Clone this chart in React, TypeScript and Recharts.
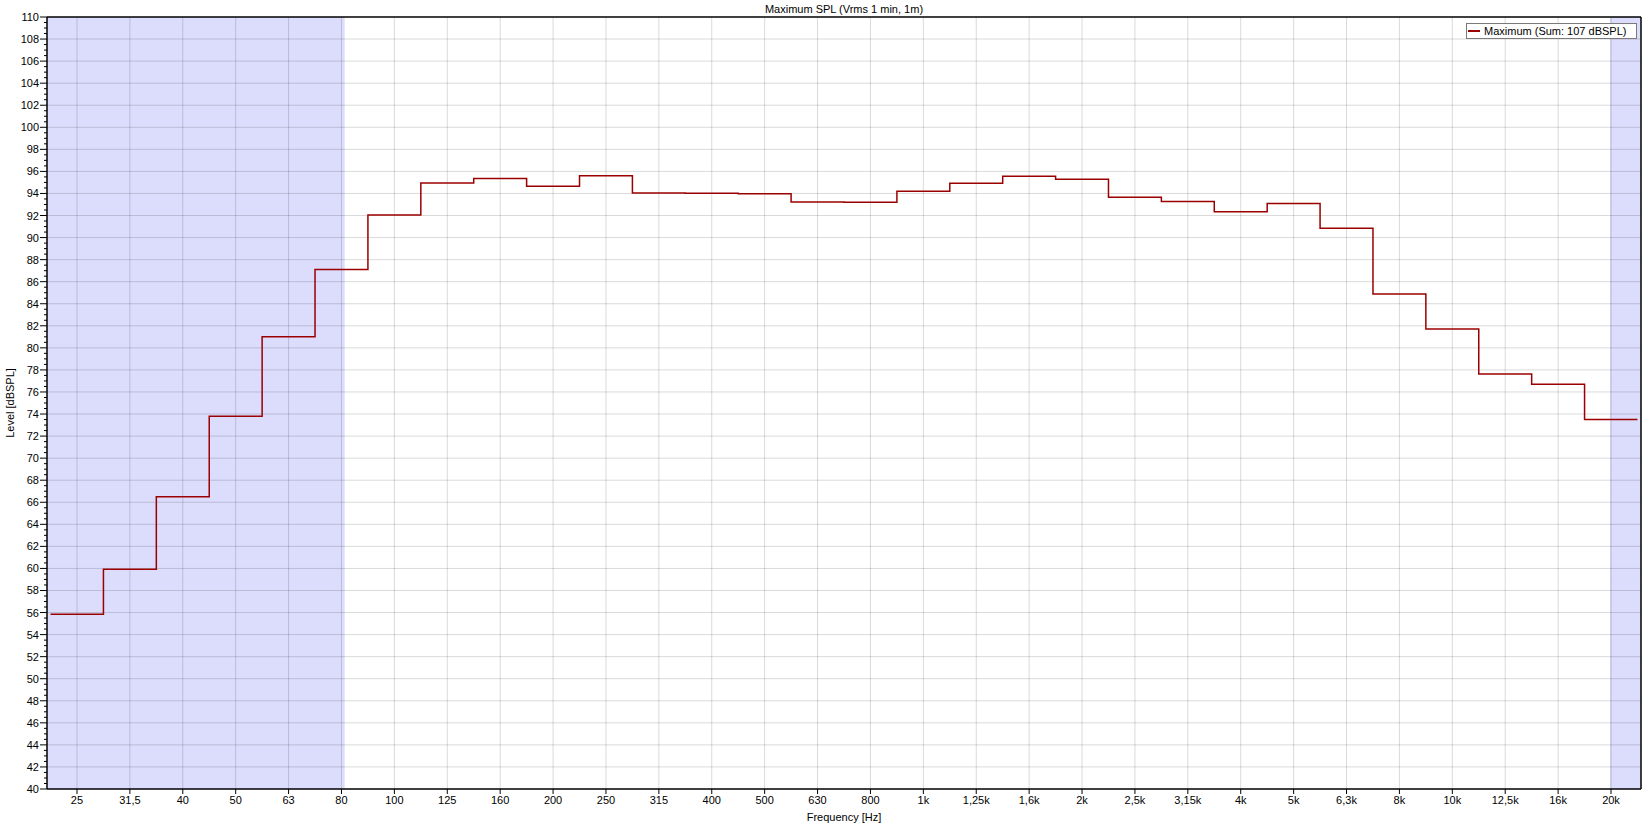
import React from 'react';
import {
  LineChart,
  Line,
  XAxis,
  YAxis,
  ReferenceArea,
  ReferenceLine,
  Legend,
} from 'recharts';

// third-octave band centres (labels as shown on the axis)
const bands = [
  '25', '31,5', '40', '50', '63', '80', '100', '125', '160', '200',
  '250', '315', '400', '500', '630', '800', '1k', '1,25k', '1,6k', '2k',
  '2,5k', '3,15k', '4k', '5k', '6,3k', '8k', '10k', '12,5k', '16k', '20k',
];

// maximum SPL per band, dBSPL
const levels = [
  55.85, 59.93, 66.5, 73.8, 81.0, 87.1, 92.05, 94.95, 95.35, 94.65,
  95.6, 94.05, 94.02, 93.98, 93.23, 93.2, 94.2, 94.92, 95.56, 95.28,
  93.65, 93.26, 92.35, 93.08, 90.84, 84.89, 81.71, 77.63, 76.7, 73.5,
];

const yMajorTicks: number[] = [];
for (let v = 40; v <= 110; v += 2) yMajorTicks.push(v);
const yMinorTicks: number[] = [];
for (let v = 40; v <= 110; v += 0.5) yMinorTicks.push(v);

const xTicks = bands.map((_, i) => i);
const X_MIN = -0.567;
const X_MAX = 29.567;

// shaded ranges outside 80 Hz .. 20 kHz (in band index units)
const lowShadeEnd = 5.06;
const highShadeStart = 28.98;

// each band drawn from its lower to its upper edge
const stepData = levels
  .map((level, i) => ({ x: i - 0.5, level }))
  .concat([{ x: levels.length - 0.5, level: levels[levels.length - 1] }]);

const YTick = (props: any) => {
  const { x, y, payload } = props;
  const major = payload.value % 2 === 0;
  return (
    <g>
      <line x1={x - (major ? 7 : 3)} x2={x} y1={y} y2={y} stroke="#000" />
      {major && (
        <text x={x - 8} y={y} dy={4} textAnchor="end" fontSize={11} fill="#000">
          {payload.value}
        </text>
      )}
    </g>
  );
};

const YLabel = (props: any) => {
  const { viewBox } = props;
  const cx = 10;
  const cy = viewBox.y + viewBox.height / 2;
  return (
    <text
      x={cx}
      y={cy}
      transform={`rotate(-90 ${cx} ${cy})`}
      textAnchor="middle"
      dominantBaseline="central"
      fontSize={11}
      fill="#000"
    >
      Level [dBSPL]
    </text>
  );
};

const LegendBox = () => (
  <div
    style={{
      border: '1px solid #7a7a7a',
      background: '#fff',
      height: 14,
      display: 'flex',
      alignItems: 'center',
      fontSize: 11,
      color: '#000',
      whiteSpace: 'nowrap',
    }}
  >
    <span style={{ display: 'inline-block', width: 12, height: 2, background: '#9b0000', margin: '0 4px 0 1px' }} />
    Maximum (Sum: 107 dBSPL)
  </div>
);

export default function App() {
  return (
    <div
      style={{
        position: 'absolute',
        left: 0,
        top: 0,
        width: 1647,
        height: 823,
        background: '#fff',
        fontFamily: '"Liberation Sans", Arial, sans-serif',
        fontSize: 11,
      }}
    >
      <div
        style={{
          position: 'absolute',
          left: 47,
          width: 1594,
          top: 3,
          textAlign: 'center',
          fontSize: 11,
          color: '#000',
        }}
      >
        Maximum SPL (Vrms 1 min, 1m)
      </div>
      <LineChart
        width={1647}
        height={823}
        data={stepData}
        margin={{ top: 17, right: 6, bottom: 0, left: 0 }}
      >
        <XAxis
          dataKey="x"
          type="number"
          domain={[X_MIN, X_MAX]}
          ticks={xTicks}
          interval={0}
          allowDataOverflow
          tickFormatter={(v: number) => bands[v]}
          tick={{ fontSize: 11, fill: '#000' }}
          tickSize={5}
          tickMargin={2}
          height={34}
          stroke="#000"
          axisLine={{ stroke: '#000', strokeWidth: 1.5 }}
          tickLine={{ stroke: '#000' }}
          label={{ value: 'Frequency [Hz]', position: 'insideBottom', offset: 2, fontSize: 11, fill: '#000' }}
        />
        <YAxis
          type="number"
          domain={[40, 110]}
          ticks={yMinorTicks}
          interval={0}
          allowDataOverflow
          width={47}
          tickSize={0}
          tickMargin={0}
          tickLine={false}
          tick={<YTick />}
          axisLine={{ stroke: '#000', strokeWidth: 1.5 }}
          label={<YLabel />}
        />
        <ReferenceArea x1={X_MIN} x2={lowShadeEnd} fill="#dcdcfc" fillOpacity={1} stroke="none" />
        <ReferenceArea x1={highShadeStart} x2={X_MAX} fill="#dcdcfc" fillOpacity={1} stroke="none" />
        {yMajorTicks.slice(1, -1).map((v) => (
          <ReferenceLine key={'h' + v} y={v} stroke="#000" strokeOpacity={0.15} />
        ))}
        {xTicks.map((v) => (
          <ReferenceLine key={'v' + v} x={v} stroke="#000" strokeOpacity={0.15} />
        ))}
        <ReferenceLine y={110} stroke="#000" strokeWidth={1.5} />
        <ReferenceLine x={X_MAX} stroke="#000" strokeWidth={1.5} />
        <Line
          type="stepAfter"
          dataKey="level"
          name="Maximum (Sum: 107 dBSPL)"
          stroke="#9b0000"
          strokeWidth={1.5}
          dot={false}
          activeDot={false}
          isAnimationActive={false}
        />
        <Legend
          layout="horizontal"
          verticalAlign="middle"
          align="center"
          wrapperStyle={{ left: 1466, top: 23, width: 171, height: 16 }}
          content={<LegendBox />}
        />
      </LineChart>
    </div>
  );
}
